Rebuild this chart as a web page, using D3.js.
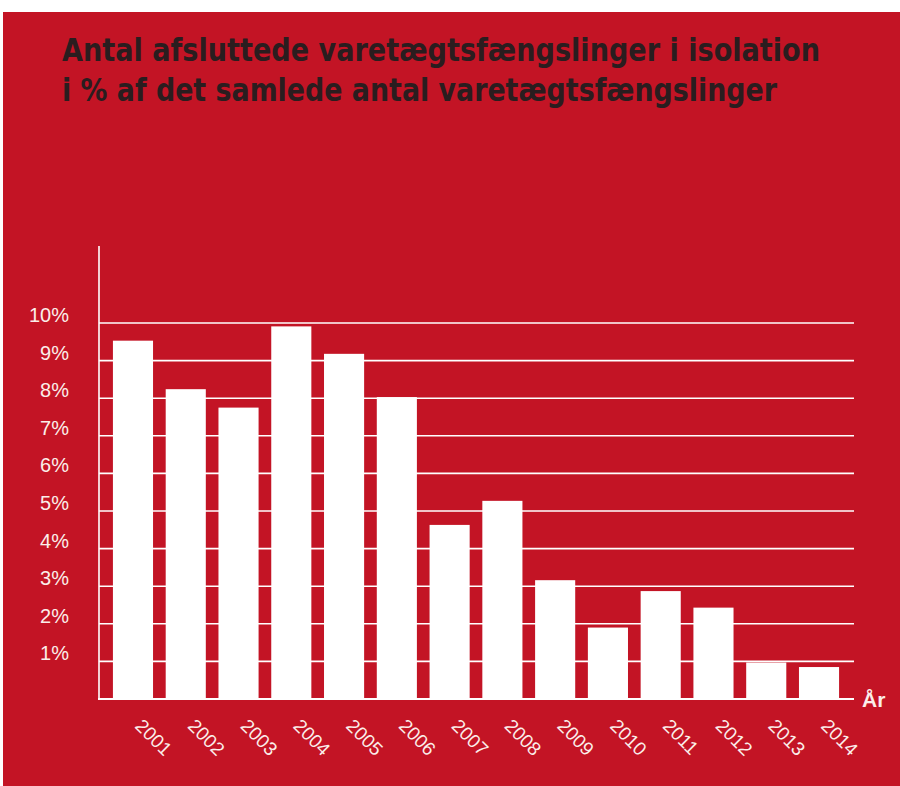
<!DOCTYPE html>
<html>
<head>
<meta charset="utf-8">
<script src="https://cdn.jsdelivr.net/npm/d3@7"></script>
<style>
  html, body { margin: 0; padding: 0; background: #ffffff; }
  svg { display: block; }
</style>
</head>
<body>
<svg id="chart" width="900" height="786"></svg>
<script>
const years = ["2001","2002","2003","2004","2005","2006","2007","2008","2009","2010","2011","2012","2013","2014"];
const values = [9.53, 8.24, 7.75, 9.91, 9.18, 8.03, 4.63, 5.27, 3.16, 1.9, 2.87, 2.43, 0.97, 0.85];
const yTicks = [1,2,3,4,5,6,7,8,9,10];
const titleLines = ["Antal afsluttede varetægtsfængslinger i isolation", "i % af det samlede antal varetægtsfængslinger"];
const axisLabel = "År";

(function () {
const svg = d3.select("#chart");
const red = "#c31425";
const light = "#fbeeea";

svg.append("rect").attr("x", 3).attr("y", 12).attr("width", 897).attr("height", 774).attr("fill", red);

const condensed = "'Liberation Sans Narrow', 'DejaVu Sans Condensed', 'Arial Narrow', sans-serif";
const regular = "'Liberation Sans', Arial, sans-serif";

const titleTargets = [{x: 62, y: 61, w: 758}, {x: 62, y: 101, w: 715}];
titleLines.forEach((t, i) => {
  svg.append("text")
    .attr("x", titleTargets[i].x).attr("y", titleTargets[i].y)
    .attr("font-family", condensed).attr("font-weight", "bold")
    .attr("font-size", 32).attr("fill", "#2a1d1f")
    .attr("textLength", titleTargets[i].w).attr("lengthAdjust", "spacingAndGlyphs")
    .text(t);
});

const pLeft = 100, pRight = 852, pTop = 246, pBottom = 699;
const y = d3.scaleLinear().domain([0, 10]).range([pBottom, 323]);
const x = d3.scaleBand().domain(years).range([pLeft, pRight]).paddingInner(0.24).paddingOuter(0.245);

svg.append("g").selectAll("line").data(yTicks).join("line")
  .attr("x1", 99).attr("x2", 854)
  .attr("y1", d => y(d)).attr("y2", d => y(d))
  .attr("stroke", "#ffffff").attr("stroke-width", 1.6);

svg.append("g").selectAll("text").data(yTicks).join("text")
  .attr("x", 69).attr("y", d => y(d) - 1)
  .attr("text-anchor", "end")
  .attr("font-family", regular).attr("font-size", 20).attr("fill", light)
  .text(d => d + "%");

svg.append("g").selectAll("rect").data(values).join("rect")
  .attr("x", (d, i) => x(years[i]))
  .attr("y", d => y(d))
  .attr("width", x.bandwidth())
  .attr("height", d => pBottom - y(d))
  .attr("fill", "#ffffff");

svg.append("line").attr("x1", 99).attr("x2", 99).attr("y1", pTop).attr("y2", pBottom + 1)
  .attr("stroke", "#ffffff").attr("stroke-width", 1.6);
svg.append("line").attr("x1", 98).attr("x2", 854).attr("y1", pBottom).attr("y2", pBottom)
  .attr("stroke", "#ffffff").attr("stroke-width", 2);

svg.append("g").selectAll("text").data(years).join("text")
  .attr("transform", d => `translate(${x(d) + x.bandwidth() / 2 + 1},${pBottom + 28}) rotate(45)`)
  .attr("font-family", regular).attr("font-size", 19).attr("fill", light)
  .text(d => d);

svg.append("text").attr("x", 862).attr("y", 707)
  .attr("font-family", regular).attr("font-weight", "bold").attr("font-size", 21).attr("fill", light)
  .text(axisLabel);
})();
</script>
</body>
</html>
